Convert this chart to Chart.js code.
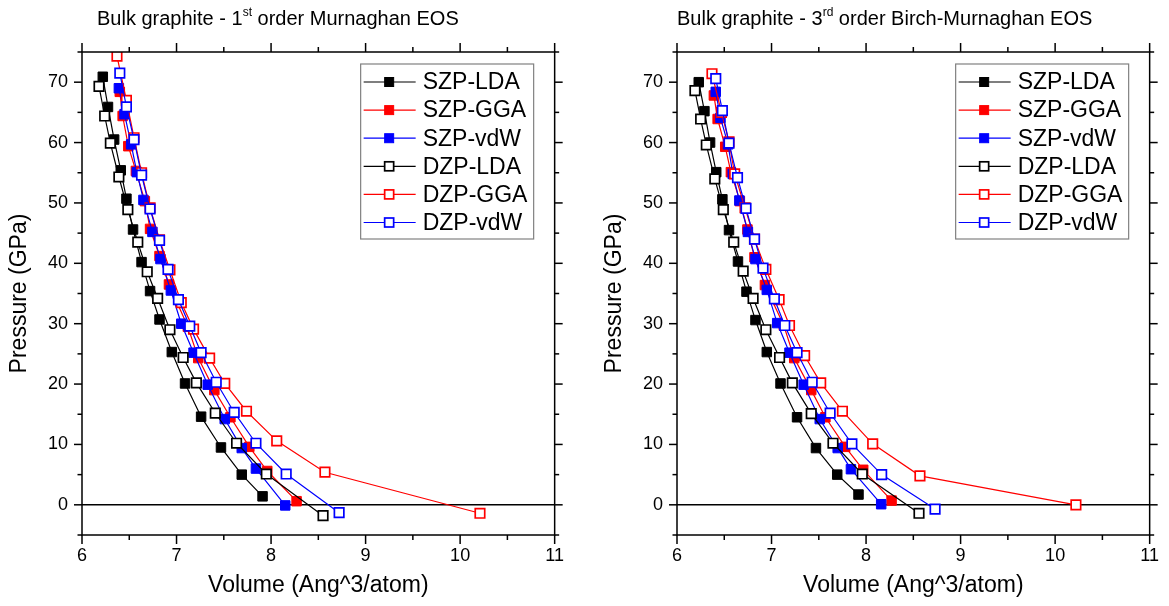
<!DOCTYPE html>
<html>
<head>
<meta charset="utf-8">
<script src="https://cdn.jsdelivr.net/npm/chart.js@4/dist/chart.umd.min.js"></script>
<style>
  body { margin: 0; background: #fff; width: 1169px; height: 606px; overflow: hidden;
         font-family: 'Liberation Sans', Arial, sans-serif; }
  .panel { position: absolute; top: 0; width: 574px; height: 606px; }
  .panel canvas { position: absolute; left: 0; top: 0; }
  .title { position: absolute; top: 6px; font-size: 20px; line-height: 24px; white-space: nowrap; color: #000; }
  .title sup { font-size: 12px; vertical-align: 0; position: relative; top: -9px; }
</style>
</head>
<body>
<div class="panel" style="left:0">
  <canvas id="murnaghan" width="574" height="606"></canvas>
  <div class="title" style="left:97px">Bulk graphite - 1<sup>st</sup> order Murnaghan EOS</div>
</div>
<div class="panel" style="left:595px">
  <canvas id="birch" width="574" height="606"></canvas>
  <div class="title" style="left:82px">Bulk graphite - 3<sup>rd</sup> order Birch-Murnaghan EOS</div>
</div>
<script>
/* global Chart */
const series_names = ['SZP-LDA', 'SZP-GGA', 'SZP-vdW', 'DZP-LDA', 'DZP-GGA', 'DZP-vdW'];

// 1st order Murnaghan EOS: volume (Ang^3/atom) and pressure (GPa)
const murn_szp_lda_v = [6.22, 6.275, 6.34, 6.41, 6.47, 6.54, 6.63, 6.72, 6.82, 6.95, 7.09, 7.26, 7.47, 7.69, 7.91];
const murn_szp_lda_p = [70.9, 65.9, 60.5, 55.4, 50.7, 45.6, 40.2, 35.4, 30.7, 25.3, 20.1, 14.6, 9.5, 5.0, 1.4];
const murn_szp_gga_v = [6.40, 6.43, 6.49, 6.57, 6.665, 6.72, 6.82, 6.92, 7.12, 7.23, 7.40, 7.57, 7.77, 7.96, 8.27];
const murn_szp_gga_p = [68.4, 64.4, 59.4, 55.3, 50.3, 45.7, 41.2, 36.5, 29.5, 24.3, 19.0, 14.5, 9.6, 5.6, 0.6];
const murn_szp_vdw_v = [6.39, 6.45, 6.52, 6.58, 6.65, 6.745, 6.83, 6.94, 7.05, 7.18, 7.33, 7.51, 7.69, 7.84, 8.15];
const murn_szp_vdw_p = [69.0, 64.7, 59.7, 55.1, 50.5, 45.2, 40.7, 35.5, 30.0, 25.2, 19.9, 14.2, 9.4, 6.0, -0.1];
const murn_dzp_lda_v = [6.18, 6.24, 6.30, 6.39, 6.485, 6.59, 6.69, 6.80, 6.93, 7.07, 7.21, 7.41, 7.635, 7.95, 8.55];
const murn_dzp_lda_p = [69.3, 64.4, 59.9, 54.3, 48.9, 43.5, 38.6, 34.2, 29.0, 24.4, 20.2, 15.2, 10.2, 5.1, -1.8];
const murn_dzp_gga_v = [6.37, 6.47, 6.55, 6.63, 6.72, 6.82, 6.93, 7.05, 7.18, 7.35, 7.51, 7.74, 8.06, 8.57, 10.21];
const murn_dzp_gga_p = [74.3, 67.0, 60.8, 55.0, 49.2, 43.9, 38.9, 33.5, 29.1, 24.3, 20.1, 15.5, 10.6, 5.4, -1.4];
const murn_dzp_vdw_v = [6.40, 6.47, 6.55, 6.63, 6.72, 6.82, 6.91, 7.02, 7.14, 7.26, 7.42, 7.61, 7.84, 8.16, 8.72];
const murn_dzp_vdw_p = [71.5, 65.9, 60.5, 54.6, 49.0, 43.8, 39.0, 34.0, 29.6, 25.2, 20.3, 15.3, 10.2, 5.1, -1.3];

// 3rd order Birch-Murnaghan EOS
const birch_szp_lda_v = [6.23, 6.29, 6.35, 6.415, 6.48, 6.55, 6.645, 6.735, 6.83, 6.95, 7.095, 7.27, 7.47, 7.695, 7.92];
const birch_szp_lda_p = [70.0, 65.2, 60.0, 55.1, 50.6, 45.5, 40.3, 35.3, 30.6, 25.3, 20.1, 14.5, 9.4, 5.0, 1.7];
const birch_szp_gga_v = [6.39, 6.43, 6.51, 6.57, 6.665, 6.745, 6.82, 6.93, 7.13, 7.24, 7.42, 7.57, 7.78, 7.97, 8.27];
const birch_szp_gga_p = [67.8, 63.9, 59.3, 55.1, 50.3, 45.6, 41.0, 36.4, 29.7, 24.3, 19.0, 14.5, 9.6, 5.8, 0.7];
const birch_szp_vdw_v = [6.41, 6.46, 6.54, 6.59, 6.66, 6.75, 6.83, 6.95, 7.06, 7.19, 7.34, 7.51, 7.70, 7.84, 8.16];
const birch_szp_vdw_p = [68.4, 64.1, 59.7, 54.8, 50.4, 45.2, 40.7, 35.6, 30.1, 25.2, 19.9, 14.2, 9.4, 5.9, 0.1];
const birch_dzp_lda_v = [6.19, 6.25, 6.31, 6.40, 6.49, 6.60, 6.70, 6.805, 6.94, 7.085, 7.22, 7.42, 7.65, 7.96, 8.56];
const birch_dzp_lda_p = [68.6, 63.9, 59.6, 54.0, 48.9, 43.5, 38.7, 34.2, 29.0, 24.4, 20.2, 15.1, 10.2, 5.1, -1.4];
const birch_dzp_gga_v = [6.37, 6.47, 6.55, 6.61, 6.72, 6.82, 6.94, 7.08, 7.19, 7.35, 7.52, 7.75, 8.07, 8.57, 10.22];
const birch_dzp_gga_p = [71.4, 65.0, 60.1, 54.8, 49.2, 44.0, 39.0, 34.0, 29.7, 24.7, 20.2, 15.5, 10.1, 4.8, 0.0];
const birch_dzp_vdw_v = [6.41, 6.48, 6.55, 6.64, 6.73, 6.82, 6.91, 7.03, 7.14, 7.27, 7.43, 7.62, 7.85, 8.165, 8.73];
const birch_dzp_vdw_p = [70.6, 65.3, 59.9, 54.2, 49.1, 44.0, 39.2, 34.1, 29.7, 25.2, 20.3, 15.2, 10.1, 5.0, -0.7];

const x_ticks = [6, 7, 8, 9, 10, 11];
const y_ticks = [0, 10, 20, 30, 40, 50, 60, 70];

const colors = ['#000000', '#ff0000', '#0000ff', '#000000', '#ff0000', '#0000ff'];
const FONT = "'Liberation Sans', Arial, sans-serif";

const toPoints = (v, p) => v.map((x, i) => ({ x, y: p[i] }));

function buildDatasets(pairs) {
  return pairs.map(([v, p], i) => {
    const open = i >= 3;
    return {
      label: series_names[i],
      data: toPoints(v, p),
      showLine: true,
      borderColor: colors[i],
      borderWidth: 1.2,
      pointStyle: 'rect',
      pointRadius: 6.7,
      pointBackgroundColor: open ? '#ffffff' : colors[i],
      pointBorderColor: colors[i],
      pointBorderWidth: open ? 1.7 : 1,
      order: 5 - i // later series drawn on top, like the original
    };
  });
}

function line(ctx, x1, y1, x2, y2) {
  ctx.beginPath();
  ctx.moveTo(x1, y1);
  ctx.lineTo(x2, y2);
  ctx.stroke();
}

// zero pressure line under the data
const zeroLine = {
  id: 'zeroLine',
  beforeDatasetsDraw(chart) {
    const { ctx, chartArea: a, scales: { y } } = chart;
    const py = y.getPixelForValue(0);
    ctx.save();
    ctx.strokeStyle = '#000';
    ctx.lineWidth = 1.5;
    line(ctx, a.left, py, a.right, py);
    ctx.restore();
  }
};

// Origin-style frame with outward major/minor ticks on all four sides
const frame = {
  id: 'frame',
  afterDraw(chart) {
    const { ctx, chartArea: a, scales: { x, y } } = chart;
    ctx.save();
    ctx.strokeStyle = '#000';
    ctx.lineWidth = 1.5;
    ctx.strokeRect(a.left, a.top, a.right - a.left, a.bottom - a.top);
    for (let v = x.min; v <= x.max + 1e-9; v += 0.5) {
      const px = x.getPixelForValue(v);
      const len = x_ticks.includes(v) ? 9 : 5;
      line(ctx, px, a.bottom, px, a.bottom + len);
      line(ctx, px, a.top, px, a.top - len);
    }
    for (let v = y.min; v <= y.max + 1e-9; v += 5) {
      const py = y.getPixelForValue(v);
      const len = y_ticks.includes(v) ? 8 : 4.5;
      line(ctx, a.left - len, py, a.left, py);
      line(ctx, a.right, py, a.right + len, py);
    }
    ctx.restore();
  }
};

// boxed legend inside the plot, line-marker-line samples
const boxLegend = {
  id: 'boxLegend',
  afterDraw(chart) {
    const { ctx, chartArea: a } = chart;
    const left = a.right - 194, top = a.top + 12;
    ctx.save();
    ctx.fillStyle = '#fff';
    ctx.fillRect(left, top, 173, 175);
    ctx.strokeStyle = '#808080';
    ctx.lineWidth = 1.2;
    ctx.strokeRect(left, top, 173, 175);
    ctx.font = `23px ${FONT}`;
    ctx.textBaseline = 'middle';
    chart.data.datasets.forEach((ds, i) => {
      const cy = top + 18 + i * 28.1;
      ctx.strokeStyle = ds.borderColor;
      ctx.lineWidth = 1.2;
      line(ctx, left + 3, cy, left + 55, cy);
      ctx.fillStyle = ds.pointBackgroundColor;
      ctx.fillRect(left + 24, cy - 4.5, 9, 9);
      ctx.lineWidth = ds.pointBorderWidth;
      ctx.strokeRect(left + 24, cy - 4.5, 9, 9);
      ctx.fillStyle = '#000';
      ctx.fillText(ds.label, left + 62, cy + 1);
    });
    ctx.restore();
  }
};

function makeChart(id, pairs) {
  return new Chart(document.getElementById(id), {
    type: 'scatter',
    data: { datasets: buildDatasets(pairs) },
    options: {
      responsive: false,
      animation: false,
      devicePixelRatio: 1,
      layout: { padding: { top: 52, right: 14, left: 0, bottom: 0 } },
      plugins: { legend: { display: false }, tooltip: { enabled: false } },
      elements: { line: { tension: 0 } },
      scales: {
        x: {
          type: 'linear', min: 6, max: 11,
          grid: { display: false, drawTicks: false },
          border: { display: false },
          ticks: { stepSize: 1, padding: 10, color: '#000', font: { family: FONT, size: 18 } },
          title: { display: true, text: 'Volume (Ang^3/atom)', color: '#000',
                   font: { family: FONT, size: 23 }, padding: { top: 0, bottom: 7 } },
          afterFit: (s) => { s.height = 71; }
        },
        y: {
          type: 'linear', min: -5, max: 75,
          grid: { display: false, drawTicks: false },
          border: { display: false },
          ticks: { stepSize: 5, autoSkip: false, padding: 14, color: '#000',
                   font: { family: FONT, size: 18 },
                   callback: (v) => (y_ticks.includes(v) ? v : '') },
          title: { display: true, text: 'Pressure (GPa)', color: '#000',
                   font: { family: FONT, size: 23 }, padding: { top: 6, bottom: 0 } },
          afterFit: (s) => { s.width = 82; }
        }
      }
    },
    plugins: [zeroLine, frame, boxLegend]
  });
}

makeChart('murnaghan', [
  [murn_szp_lda_v, murn_szp_lda_p],
  [murn_szp_gga_v, murn_szp_gga_p],
  [murn_szp_vdw_v, murn_szp_vdw_p],
  [murn_dzp_lda_v, murn_dzp_lda_p],
  [murn_dzp_gga_v, murn_dzp_gga_p],
  [murn_dzp_vdw_v, murn_dzp_vdw_p]
]);

makeChart('birch', [
  [birch_szp_lda_v, birch_szp_lda_p],
  [birch_szp_gga_v, birch_szp_gga_p],
  [birch_szp_vdw_v, birch_szp_vdw_p],
  [birch_dzp_lda_v, birch_dzp_lda_p],
  [birch_dzp_gga_v, birch_dzp_gga_p],
  [birch_dzp_vdw_v, birch_dzp_vdw_p]
]);
</script>
</body>
</html>
